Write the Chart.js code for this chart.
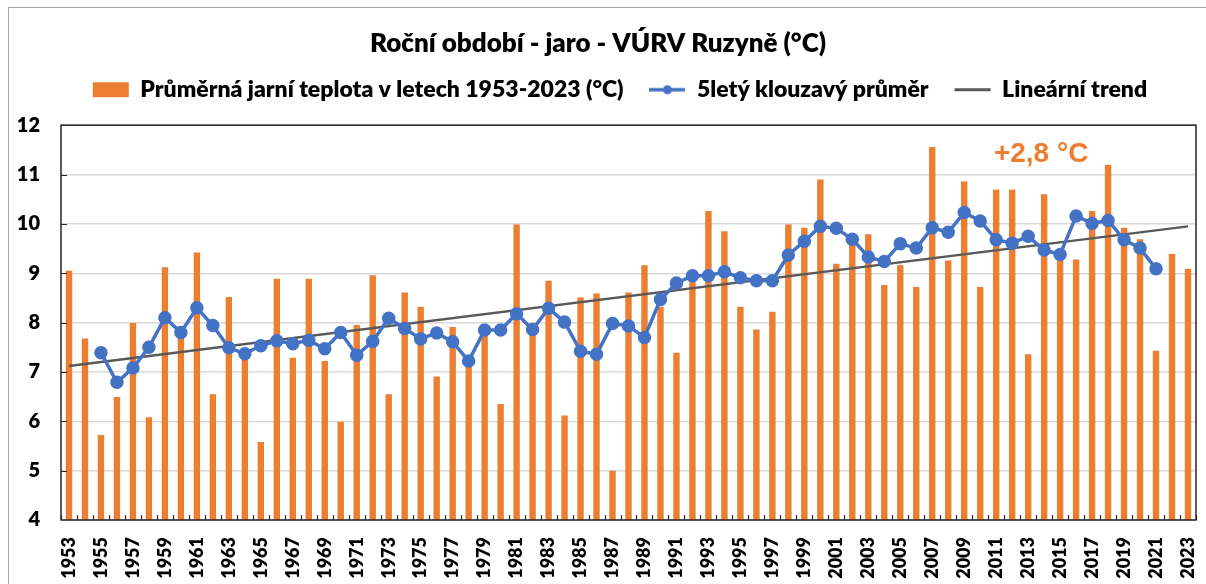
<!DOCTYPE html>
<html>
<head>
<meta charset="utf-8">
<script src="https://cdn.jsdelivr.net/npm/chart.js@4/dist/chart.umd.min.js"></script>
<style>
  body { margin: 0; background: #fff; overflow: hidden; }
  #frame { position: absolute; left: 8px; top: 7px; width: 1400px; height: 800px; border: 1.5px solid #a6a6a6; }
  #chart { position: absolute; left: 0; top: 0; }
</style>
</head>
<body>
<div id="frame"></div>
<canvas id="chart" width="1206" height="584"></canvas>
<script>
const years = [];
for (let y = 1953; y <= 2023; y++) years.push(String(y));

// průměrná jarní teplota (°C)
const springTemp = [
  9.05, 7.68, 5.72, 6.49, 7.99, 6.08, 9.12, 7.82, 9.42, 6.55,
  8.52, 7.38, 5.58, 8.89, 7.29, 8.89, 7.22, 5.99, 7.95, 8.96,
  6.55, 8.61, 8.32, 6.91, 7.91, 7.20, 7.73, 6.35, 9.99, 7.98,
  8.85, 6.12, 8.51, 8.59, 5.00, 8.61, 9.16, 8.32, 7.39, 8.87,
  10.26, 9.85, 8.32, 7.86, 8.22, 9.99, 9.92, 10.90, 9.19, 9.75,
  9.79, 8.76, 9.16, 8.72, 11.56, 9.26, 10.86, 8.72, 10.69, 10.69,
  7.36, 10.60, 9.41, 9.28, 10.26, 11.20, 9.92, 9.69, 7.43, 9.39,
  9.09
];

// 5letý klouzavý průměr (1955-2021)
const movingAvg = [
  null, null,
  7.39, 6.79, 7.08, 7.50, 8.10, 7.80, 8.30, 7.94, 7.49, 7.37,
  7.53, 7.63, 7.57, 7.64, 7.47, 7.80, 7.34, 7.62, 8.09, 7.88,
  7.67, 7.79, 7.61, 7.22, 7.85, 7.85, 8.18, 7.86, 8.29, 8.01,
  7.42, 7.36, 7.98, 7.93, 7.70, 8.47, 8.80, 8.95, 8.95, 9.03,
  8.91, 8.85, 8.85, 9.37, 9.65, 9.95, 9.91, 9.69, 9.33, 9.24,
  9.60, 9.51, 9.92, 9.83, 10.23, 10.06, 9.68, 9.61, 9.75, 9.47,
  9.38, 10.16, 10.01, 10.07, 9.68, 9.51, 9.09,
  null, null
];

// lineární trend: hodnoty v letech 1953 a 2023
const trendEnds = [7.12, 9.95];
const trend = years.map((y, i) => i === 0 ? trendEnds[0] : i === years.length - 1 ? trendEnds[1] : null);

const trendLabel = { text: '+2,8 °C', year: '2014', value: 11.42 };

const ORANGE = '#ED7D31', BLUE = '#4472C4', GREY = '#595959';
const FONT = 'Lato';
const W = 800;

// legend icon: line with a dot
const maIcon = document.createElement('canvas');
maIcon.width = 36; maIcon.height = 12;
(() => {
  const c = maIcon.getContext('2d');
  c.strokeStyle = BLUE; c.lineWidth = 3.5;
  c.beginPath(); c.moveTo(0, 6); c.lineTo(36, 6); c.stroke();
  c.fillStyle = BLUE; c.beginPath(); c.arc(18, 6, 4.5, 0, Math.PI * 2); c.fill();
})();

const frame = {
  id: 'frame',
  beforeInit(chart) {
    const fit = chart.legend.fit;
    chart.legend.fit = function () { fit.call(this); this.height += 14; };
  },
  afterLayout(chart) {
    // legenda je v originále mírně posunutá doprava
    chart.legend.left += 22; chart.legend.right += 22;
  },
  afterDatasetsDraw(chart) {
    const { ctx, chartArea: a, scales: { x, y } } = chart;
    ctx.save();
    ctx.strokeStyle = '#262626'; ctx.lineWidth = 1.2;
    ctx.beginPath();
    const half = (x.getPixelForValue(1) - x.getPixelForValue(0)) / 2;
    for (let i = 0; i <= years.length; i++) {
      const px = Math.round(x.getPixelForValue(i) - half) + 0.5;
      ctx.moveTo(px, a.bottom); ctx.lineTo(px, a.bottom - 5);
    }
    for (let v = 5; v < 12; v++) {
      const py = Math.round(y.getPixelForValue(v)) + 0.5;
      ctx.moveTo(a.left, py); ctx.lineTo(a.left + 6, py);
    }
    ctx.stroke();
    ctx.lineWidth = 1.5;
    ctx.strokeRect(a.left, a.top, a.right - a.left, a.bottom - a.top);
    ctx.font = 'bold 28px "Liberation Sans", Arial, sans-serif';
    ctx.fillStyle = ORANGE; ctx.textAlign = 'center'; ctx.textBaseline = 'middle';
    ctx.fillText(trendLabel.text, x.getPixelForValue(years.indexOf(trendLabel.year)) - 3, y.getPixelForValue(trendLabel.value));
    ctx.restore();
  }
};

new Chart(document.getElementById('chart'), {
  data: {
    labels: years,
    datasets: [
      { type: 'bar', label: 'Průměrná jarní teplota v letech 1953-2023 (°C)', data: springTemp,
        backgroundColor: ORANGE, categoryPercentage: 1, barPercentage: 0.4, order: 3 },
      { type: 'line', label: '5letý klouzavý průměr', data: movingAvg, borderColor: BLUE, backgroundColor: BLUE,
        borderWidth: 3.5, pointRadius: 5, pointHoverRadius: 5, tension: 0, order: 1 },
      { type: 'line', label: 'Lineární trend', data: trend, borderColor: GREY, borderWidth: 2.5,
        pointRadius: 0, spanGaps: true, order: 2 }
    ]
  },
  options: {
    responsive: false,
    animation: false,
    layout: { padding: { left: 0, right: 10, top: 0, bottom: 0 } },
    plugins: {
      title: { display: true, text: 'Roční období - jaro - VÚRV Ruzyně (°C)', color: '#000',
        font: { family: FONT, size: 26, weight: W }, padding: { top: 28, bottom: -7 } },
      legend: {
        labels: {
          color: '#000', font: { family: FONT, size: 23, weight: W }, padding: 26,
          usePointStyle: true, pointStyleWidth: 36, boxHeight: 15,
          sort: (a, b) => a.datasetIndex - b.datasetIndex,
          generateLabels(chart) {
            const items = Chart.defaults.plugins.legend.labels.generateLabels(chart);
            items.forEach(it => {
              if (it.datasetIndex === 0) { it.pointStyle = 'rect'; it.lineWidth = 0; }
              if (it.datasetIndex === 1) it.pointStyle = maIcon;
              if (it.datasetIndex === 2) { it.pointStyle = 'line'; it.strokeStyle = GREY; it.lineWidth = 3; }
            });
            return items;
          }
        }
      },
      tooltip: { enabled: false }
    },
    scales: {
      x: {
        grid: { display: false, drawTicks: false }, border: { display: false },
        afterFit: s => { s.height = 64; s.paddingLeft = 0; s.paddingRight = 0; },
        ticks: { autoSkip: false, minRotation: 90, maxRotation: 90, padding: 17, color: '#000',
          font: { family: FONT, size: 18, weight: W },
          callback: (v, i) => i % 2 === 0 ? years[i] : '' }
      },
      y: {
        min: 4, max: 12,
        grid: { color: '#d9d9d9', lineWidth: 1.5, drawTicks: false }, border: { display: false },
        afterFit: s => { s.width = 61; },
        ticks: { stepSize: 1, padding: 21, color: '#000', font: { family: FONT, size: 20, weight: W } }
      }
    }
  },
  plugins: [frame]
});
</script>
</body>
</html>
